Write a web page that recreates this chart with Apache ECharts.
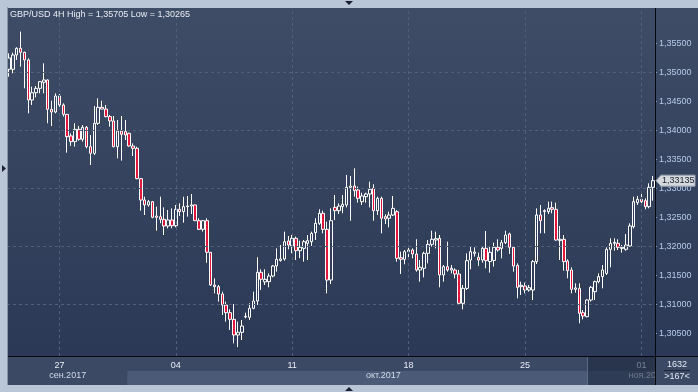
<!DOCTYPE html>
<html><head><meta charset="utf-8">
<script src="https://cdn.jsdelivr.net/npm/echarts@6/dist/echarts.min.js"></script>
<style>html,body{margin:0;padding:0;background:#b9c6d7;}#c{width:698px;height:392px;}</style>
</head><body><div id="c"></div>
<script>
// ---- data (GBP/USD 4H) ----
const symbolName = 'GBP/USD 4H';
const opens = [1.35055,1.35055,1.35302,1.35417,1.35348,1.35216,1.34526,1.34652,1.34727,1.34831,
1.34871,1.34365,1.34319,1.34595,1.34440,1.34279,1.33906,1.33808,1.34020,1.33848,
1.34055,1.33721,1.33606,1.34124,1.34400,1.34370,1.34239,1.34164,1.33721,1.33991,
1.33980,1.33951,1.33733,1.33693,1.33170,1.32802,1.32716,1.32773,1.32526,1.32514,
1.32468,1.32353,1.32457,1.32359,1.32641,1.32601,1.32687,1.32698,1.32716,1.32445,
1.32296,1.32445,1.31900,1.31336,1.31308,1.31181,1.30991,1.30859,1.30744,1.30474,
1.30520,1.30785,1.30779,1.30934,1.31060,1.31555,1.31390,1.31394,1.31491,1.31664,
1.31760,1.31785,1.32095,1.32009,1.32141,1.31928,1.31968,1.32055,1.32083,1.32239,
1.32399,1.32572,1.32296,1.31422,1.32675,1.32618,1.32687,1.32716,1.33020,1.33043,
1.32974,1.32773,1.32859,1.32905,1.33003,1.32618,1.32830,1.32514,1.32486,1.32543,
1.32600,1.31808,1.31779,1.31911,1.31940,1.31871,1.31595,1.31624,1.31882,1.32037,
1.32112,1.32141,1.31509,1.31652,1.31595,1.31595,1.31526,1.31020,1.31279,1.31767,
1.31882,1.31813,1.31767,1.31968,1.31740,1.31760,1.31986,1.31968,1.32066,1.32216,
1.31986,1.31675,1.31308,1.31319,1.31250,1.31250,1.31739,1.32543,1.32601,1.32601,
1.32670,1.32641,1.32101,1.32124,1.31750,1.31595,1.31262,1.31279,1.30859,1.30790,
1.31078,1.31221,1.31394,1.31480,1.31537,1.31951,1.32055,1.32055,1.31968,1.31951,
1.32009,1.32342,1.32756,1.32813,1.32790,1.32687,1.33020];
const closes = [1.35250,1.35302,1.35417,1.35348,1.35216,1.34526,1.34652,1.34727,1.34842,1.34871,
1.34365,1.34319,1.34595,1.34440,1.34279,1.33894,1.33808,1.34020,1.33848,1.34055,
1.33721,1.33606,1.34124,1.34400,1.34370,1.34239,1.34164,1.33721,1.33991,1.33934,
1.33922,1.33733,1.33693,1.33170,1.32802,1.32716,1.32773,1.32503,1.32503,1.32468,
1.32353,1.32457,1.32359,1.32641,1.32601,1.32687,1.32698,1.32716,1.32445,1.32296,
1.32445,1.31900,1.31336,1.31308,1.31181,1.30991,1.30859,1.30744,1.30474,1.30520,
1.30629,1.30796,1.30934,1.31060,1.31555,1.31434,1.31434,1.31491,1.31664,1.31779,
1.31785,1.32083,1.32026,1.32141,1.31928,1.31986,1.32083,1.32101,1.32227,1.32399,
1.32572,1.32296,1.31422,1.32445,1.32618,1.32698,1.32727,1.33020,1.33043,1.32963,
1.32830,1.32871,1.32905,1.32986,1.32618,1.32830,1.32486,1.32474,1.32543,1.32658,
1.31796,1.31779,1.31911,1.31940,1.31871,1.31595,1.31641,1.31882,1.32037,1.32124,
1.32135,1.31509,1.31652,1.31595,1.31624,1.31526,1.31020,1.31279,1.31756,1.31911,
1.31905,1.31767,1.31968,1.31756,1.31900,1.31986,1.31940,1.32066,1.32198,1.31986,
1.31664,1.31296,1.31331,1.31250,1.31290,1.31739,1.32543,1.32445,1.32618,1.32658,
1.32641,1.32112,1.32124,1.31739,1.31583,1.31262,1.31285,1.30848,1.30802,1.31078,
1.31296,1.31394,1.31480,1.31595,1.31951,1.32055,1.32072,1.31986,1.31986,1.32026,
1.32354,1.32773,1.32813,1.32773,1.32687,1.33020,1.33135];
const lows = [1.34928,1.34986,1.35216,1.35101,1.34727,1.34296,1.34440,1.34572,1.34641,1.34641,
1.34124,1.34078,1.34296,1.34365,1.34239,1.33618,1.33733,1.33721,1.33825,1.33808,
1.33693,1.33405,1.33578,1.34095,1.34365,1.34227,1.34066,1.33710,1.33520,1.33480,
1.33836,1.33721,1.33560,1.33158,1.32618,1.32543,1.32687,1.32486,1.32273,1.32400,
1.32198,1.32313,1.32313,1.32331,1.32526,1.32411,1.32514,1.32560,1.32440,1.32285,
1.32256,1.31721,1.31319,1.31193,1.31049,1.30819,1.30704,1.30560,1.30331,1.30265,
1.30388,1.30762,1.30733,1.30917,1.30991,1.31250,1.31336,1.31296,1.31469,1.31566,
1.31739,1.31756,1.31951,1.31882,1.31767,1.31800,1.31739,1.31767,1.32009,1.32112,
1.32371,1.32227,1.31193,1.31353,1.32457,1.32560,1.32572,1.32675,1.32445,1.32859,
1.32756,1.32716,1.32756,1.32675,1.32445,1.32543,1.32227,1.32388,1.32330,1.32526,
1.31739,1.31526,1.31693,1.31813,1.31796,1.31566,1.31394,1.31468,1.31710,1.31997,
1.31968,1.31296,1.31394,1.31566,1.31537,1.31451,1.30991,1.30917,1.31250,1.31606,
1.31825,1.31664,1.31721,1.31624,1.31549,1.31652,1.31911,1.31796,1.32043,1.31871,
1.31566,1.31106,1.31164,1.31193,1.31221,1.31078,1.31698,1.32227,1.32227,1.32560,
1.32572,1.32101,1.31767,1.31583,1.31451,1.31193,1.31204,1.30675,1.30744,1.30779,
1.31049,1.31078,1.31365,1.31279,1.31509,1.31641,1.31928,1.31940,1.31894,1.31928,
1.31997,1.32313,1.32716,1.32698,1.32641,1.32658,1.32790];
const highs = [1.35331,1.35342,1.35434,1.35705,1.35360,1.35244,1.34756,1.34767,1.34853,1.35158,
1.34880,1.34514,1.34641,1.34629,1.34468,1.34285,1.33951,1.34124,1.34078,1.34095,
1.34078,1.33922,1.34422,1.34555,1.34514,1.34440,1.34267,1.34250,1.34181,1.34250,
1.34181,1.33963,1.33779,1.33721,1.33175,1.32859,1.32802,1.32785,1.32687,1.32859,
1.32675,1.32629,1.32658,1.32716,1.32744,1.32859,1.32871,1.32905,1.32722,1.32486,
1.32457,1.32486,1.31905,1.31451,1.31336,1.31221,1.31049,1.30917,1.31009,1.30704,
1.30733,1.30859,1.31020,1.31221,1.31813,1.31606,1.31606,1.31537,1.31681,1.31968,
1.32026,1.32256,1.32181,1.32198,1.32170,1.32100,1.32112,1.32198,1.32256,1.32486,
1.32641,1.32618,1.32428,1.32658,1.32888,1.32744,1.32888,1.33233,1.33216,1.33348,
1.33032,1.32928,1.32928,1.33118,1.33072,1.32859,1.32859,1.32555,1.32601,1.32871,
1.32629,1.31911,1.31940,1.31997,1.31968,1.32124,1.31767,1.31911,1.32112,1.32273,
1.32256,1.32198,1.31681,1.32083,1.31681,1.31624,1.31595,1.31336,1.31882,1.31997,
1.31986,1.31894,1.31997,1.32267,1.31997,1.32066,1.32124,1.32112,1.32273,1.32239,
1.32009,1.31710,1.31394,1.31377,1.31336,1.31767,1.32658,1.32716,1.32641,1.32773,
1.32773,1.32756,1.32354,1.32198,1.31779,1.31641,1.31365,1.31365,1.30905,1.31089,
1.31319,1.31411,1.31537,1.31681,1.31986,1.32141,1.32141,1.32124,1.32026,1.32216,
1.32400,1.32859,1.32871,1.32917,1.32831,1.33089,1.33216];
const priceTicks = [1.305,1.31,1.315,1.32,1.325,1.33,1.335,1.34,1.345,1.35,1.355];
const monthLabels = ['сен.2017','окт.2017','ноя.2017'];
const totalBars = '1632';
const visibleBars = '>167<';
const yMin = 1.30112, yMax = 1.36112;

// categories: 4H bars (trading days only), starting Fri 22 Sep 2017 20:00
function buildCategories(n){
  const out=[]; let t=Date.UTC(2017,8,22,20);
  while(out.length<n){const d=new Date(t);const wd=d.getUTCDay();if(wd!==0&&wd!==6)out.push(t);t+=4*3600e3;}
  return out;
}
const times = buildCategories(opens.length);
const pad=n=>(n<10?'0':'')+n;
const cats = times.map(t=>{const d=new Date(t);return d.getUTCFullYear()+'-'+pad(d.getUTCMonth()+1)+'-'+pad(d.getUTCDate())+' '+pad(d.getUTCHours())+':00';});
const isWeekTick = i=>{const d=new Date(times[i]);return d.getUTCDay()===3&&d.getUTCHours()===0;};
const weekIdx = cats.map((c,i)=>i).filter(isWeekTick);
const candles = opens.map((o,i)=>[o,closes[i],lows[i],highs[i]]);
const fmt = v=>v.toFixed(5).replace('.',',');
const FONT = '"Liberation Sans", Arial, sans-serif';

const chart = echarts.init(document.getElementById('c'),null,{renderer:'canvas'});
chart.setOption({
  animation:false,
  backgroundColor:'transparent',
  grid:{left:7,right:43,top:8,bottom:36},
  xAxis:{type:'category',data:cats,
    axisLine:{show:false},axisTick:{show:false},splitLine:{show:false},
    axisLabel:{interval:(i)=>isWeekTick(i),formatter:(v)=>v.slice(8,10),color:'#e8edf5',fontSize:9,fontFamily:FONT,margin:5}},
  yAxis:{type:'value',position:'right',min:yMin,max:yMax,
    axisLine:{show:false},splitLine:{show:false},
    axisTick:{show:true,customValues:priceTicks,length:2,lineStyle:{color:'#7f9fca'}},
    axisLabel:{customValues:priceTicks,formatter:fmt,color:'#b5cbea',fontSize:9,fontFamily:FONT,margin:4}},
  series:[
    {type:'line',data:[],z:1,silent:true,
     markLine:{silent:true,symbol:'none',animation:false,label:{show:false},
       lineStyle:{color:'#525f7a',type:[3,3],width:1},
       data:[...priceTicks.map(v=>({yAxis:v})),...weekIdx.map(i=>({xAxis:cats[i]}))]}},
    {type:'candlestick',data:candles,barWidth:3,z:3,
     itemStyle:{color:'transparent',color0:'#e3173e',borderColor:'#ffffff',borderColor0:'#ffffff',borderWidth:1}}
  ]
});

const px = (i)=>chart.convertToPixel({xAxisIndex:0},cats[i]);
const band = 648/cats.length;
const plotL = 7, plotR = 655;
// month boundaries
const monthStarts=[0];
for(let i=1;i<times.length;i++){if(new Date(times[i]).getUTCMonth()!==new Date(times[i-1]).getUTCMonth())monthStarts.push(i);}
const edges = monthStarts.map((s,k)=>k===0?8:px(s)-band/2);
edges.push(plotR);
const monthEls = monthLabels.map((m,k)=>({type:'text',z:50,style:{text:m,x:(edges[k]+edges[k+1])/2,y:376,align:'center',verticalAlign:'middle',fill:'#d3dbe8',font:'9px '+FONT}}));
const octStart = edges[1];
const lastY = chart.convertToPixel({yAxisIndex:0},closes[closes.length-1]);
const hi = Math.max(...highs), lo = Math.min(...lows);

chart.setOption({graphic:{elements:[
  {type:'rect',z:-20,silent:true,shape:{x:0,y:0,width:698,height:392},style:{fill:'#b9c6d7'}},
  {type:'rect',z:-19,silent:true,shape:{x:8,y:8,width:690,height:348},style:{fill:new echarts.graphic.LinearGradient(0,0,0,1,[{offset:0,color:'#3f4c66'},{offset:1,color:'#2c3956'}])}},
  {type:'rect',z:-19,silent:true,shape:{x:8,y:356,width:690,height:29},style:{fill:'#3b4965'}},
  {type:'rect',z:-18,silent:true,shape:{x:octStart,y:371,width:plotR-octStart,height:14},style:{fill:'#4b5a76'}},
  ...monthEls,
  {type:'text',z:60,style:{text:symbolName+' High = '+fmt(hi)+' Low = '+fmt(lo),x:10,y:14.5,verticalAlign:'middle',fill:'#e8edf4',font:'9px '+FONT}},
  {type:'rect',z:90,silent:true,shape:{x:587,y:357,width:68,height:28},style:{fill:'rgba(26,36,58,0.55)'}},
  {type:'line',z:91,silent:true,shape:{x1:587.5,y1:357,x2:587.5,y2:385},style:{stroke:'#5e6b84',lineWidth:1}},
  {type:'rect',z:92,silent:true,shape:{x:656,y:357,width:42,height:28},style:{fill:'#3b4965'}},
  {type:'text',z:93,style:{text:totalBars,x:677,y:365,align:'center',verticalAlign:'middle',fill:'#e3e9f2',font:'9px '+FONT}},
  {type:'line',z:93,silent:true,shape:{x1:664,y1:370.5,x2:690,y2:370.5},style:{stroke:'#1e2638',lineWidth:1}},
  {type:'text',z:93,style:{text:visibleBars,x:677,y:377,align:'center',verticalAlign:'middle',fill:'#e3e9f2',font:'9px '+FONT}},
  {type:'line',z:95,silent:true,shape:{x1:8,y1:356.5,x2:698,y2:356.5},style:{stroke:'#05070c',lineWidth:1}},
  {type:'line',z:95,silent:true,shape:{x1:655.5,y1:8,x2:655.5,y2:385},style:{stroke:'#05070c',lineWidth:1}},
  {type:'rect',z:96,silent:true,shape:{x:0,y:385,width:698,height:7},style:{fill:'#b9c6d7'}},
  {type:'rect',z:96,silent:true,shape:{x:0,y:0,width:8,height:392},style:{fill:'#b9c6d7'}},
  {type:'line',z:96,silent:true,shape:{x1:7.5,y1:7,x2:7.5,y2:385},style:{stroke:'#8894a6',lineWidth:1}},
  {type:'polygon',z:97,silent:true,shape:{points:[[656,lastY],[661,lastY-5.5],[695,lastY-5.5],[695,lastY+5.5],[661,lastY+5.5]]},style:{fill:'#d5d8dd',stroke:'#9aa3b0',lineWidth:1}},
  {type:'text',z:98,style:{text:fmt(closes[closes.length-1]),x:662,y:lastY,verticalAlign:'middle',fill:'#1b2230',font:'9px '+FONT}},
  {type:'polygon',z:97,silent:true,shape:{points:[[345,1],[353,1],[349,5]]},style:{fill:'#1a2030'}},
  {type:'polygon',z:97,silent:true,shape:{points:[[345,391],[353,391],[349,387]]},style:{fill:'#1a2030'}},
  {type:'polygon',z:97,silent:true,shape:{points:[[2,165],[2,172],[6,168.5]]},style:{fill:'#1a2030'}}
]}});
</script></body></html>
